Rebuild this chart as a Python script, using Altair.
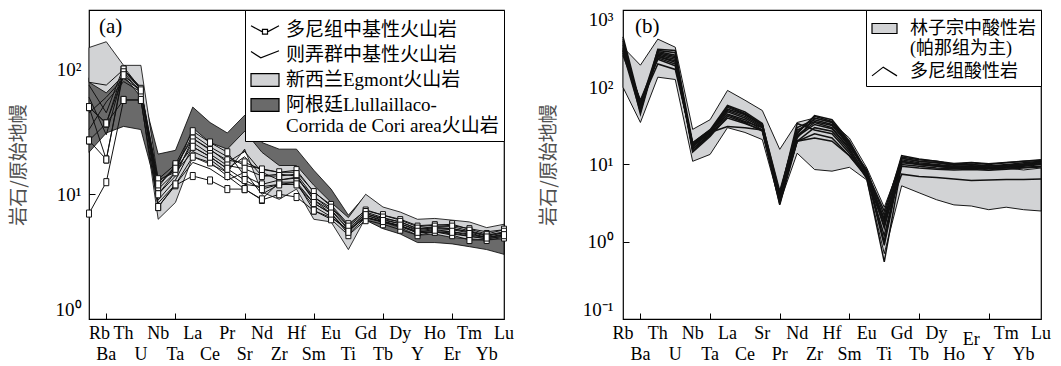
import altair as alt
import pandas as pd

# ---------------- data ----------------
ELEMS_A = ["Rb", "Ba", "Th", "U", "Nb", "Ta", "La", "Ce", "Pr", "Sr", "Nd", "Zr", "Hf",
           "Sm", "Eu", "Ti", "Gd", "Tb", "Dy", "Y", "Ho", "Er", "Tm", "Yb", "Lu"]
ELEMS_B = ["Rb", "Ba", "Th", "U", "Nb", "Ta", "La", "Ce", "Sr", "Pr", "Nd", "Zr", "Hf",
           "Sm", "Eu", "Ti", "Gd", "Tb", "Dy", "Ho", "Er", "Y", "Tm", "Yb", "Lu"]

# panel (a) envelopes
LLULL_UP = [86, 95, 95, 72, 21, 22.5, 50, 37.6, 31, 43, 26, 23, 23, 15.6, 11, 6.8, 9.8, 7.4, 6.5, 6.0, 6.0, 5.75, 5.75, 5.25, 5.4]
LLULL_LO = [21.7, 31, 35, 33, 10, 11, 30, 24, 19, 22, 16, 14, 14, 10, 7.5, 4.6, 6.2, 5.3, 4.8, 4.1, 4.1, 4.0, 3.8, 3.6, 3.3]
EGMONT_UP = [150, 167, 108, 108, 13, 15, 34, 26, 23, 32, 21.7, 17, 17, 11.8, 8.6, 6.5, 10, 7.9, 7.2, 6.3, 6.4, 6.2, 6.0, 5.4, 5.75]
EGMONT_LO = [79, 65, 90, 60, 6.3, 8.6, 20, 17.4, 15, 23, 10.4, 9.1, 11, 6.3, 6.0, 3.6, 6.5, 6.0, 5.4, 4.7, 4.8, 4.5, 4.4, 4.3, 4.4]

# panel (a) Duoni intermediate-basic volcanic rocks (with markers)
DUONI_A = [
    [7, 12.5, 57, 57, 7.9, 11.8, 14, 12.9, 11, 11, 9, 10, 9.5, 7.4, 6.5, 5.2, 6.5, 6.0, 5.6, 4.9, 5.0, 4.8, 4.6, 4.4, 4.6],
    [27, 19, 100, 69, 11.4, 17, 28, 22.6, 18.7, 18, 15.8, 15, 15.6, 10.4, 8.2, 5.75, 7.4, 6.8, 6.2, 5.5, 5.65, 5.75, 5.25, 4.8, 5.2],
    [50, 37, 100, 70, 13.2, 17.4, 32, 26, 21.7, 14, 12, 13, 13.7, 9.0, 7.4, 5.2, 7.0, 6.3, 5.8, 5.2, 5.4, 5.3, 5.0, 4.6, 4.9],
    [27, 37, 57, 57, 7.9, 12, 20, 18, 14, 11, 9.1, 12.5, 12.5, 7.4, 6.3, 4.7, 6.2, 5.75, 5.2, 4.7, 5.0, 4.7, 4.3, 4.3, 4.5],
    [50, 19, 95, 65, 10, 15, 26, 21, 17, 16, 14, 14, 14.5, 9.5, 7.8, 5.5, 7.2, 6.5, 6.0, 5.3, 5.5, 5.5, 5.1, 4.7, 5.0],
    [50, 37, 90, 68, 12, 16, 24, 20, 16, 13, 11, 12, 12, 8.5, 7.0, 5.0, 6.8, 6.1, 5.6, 5.0, 5.2, 5.0, 4.8, 4.5, 4.7],
]
# panel (a) Zenong group intermediate-basic volcanic rocks (no markers)
ZENONG_A = [
    [60, 30, 95, 70, 9, 13, 24, 20, 16, 20, 14, 14.5, 14, 9, 7, 5.0, 6.8, 6.2, 5.8, 5.1, 5.3, 5.2, 4.9, 4.5, 4.8],
    [79, 75, 100, 72, 10, 14, 28, 23, 18, 22, 15, 13, 13.5, 9.5, 7.5, 5.3, 7.0, 6.4, 6.0, 5.3, 5.4, 5.3, 5.0, 4.7, 4.9],
    [45, 60, 85, 68, 11, 15, 22, 19, 15, 12, 11.5, 12, 12.5, 8.5, 7, 4.8, 6.5, 6.0, 5.5, 4.9, 5.0, 4.9, 4.6, 4.4, 4.6],
    [75, 45, 105, 70, 12.5, 16, 30, 24, 20, 17, 16, 15, 15, 10.5, 8, 5.6, 7.5, 6.8, 6.3, 5.6, 5.7, 5.6, 5.3, 5.0, 5.2],
    [33, 55, 80, 66, 8.5, 12, 18, 16, 13, 15, 10, 12, 12, 8, 6.6, 5.1, 6.6, 6.0, 5.6, 5.0, 5.1, 5.0, 4.7, 4.5, 4.7],
]

# panel (b) Linzizong envelope
LINZI_UP = [330, 193, 420, 330, 28.5, 38, 91, 68, 50, 15.7, 35, 40, 35, 22, 9, 2.8, 11, 10, 9.5, 9, 9, 8.5, 9, 8.5, 9]
LINZI_LO = [100, 35, 135, 126, 11, 13.5, 30, 26, 21, 3.2, 14, 8.6, 8.2, 9.2, 6.3, 0.7, 5.3, 4.3, 3.5, 3.0, 2.9, 2.6, 2.8, 2.6, 2.5]

# panel (b) Duoni acid rocks
DUONI_B = [
    [450, 60, 300, 280, 19, 28, 58, 48, 34, 3.5, 25, 43, 38, 20, 8, 1.5, 12, 11, 10.5, 10, 10, 9.5, 10, 10.5, 11],
    [400, 50, 280, 250, 17, 26, 52, 44, 32, 3.3, 22, 40, 35, 18, 7.5, 1.0, 11.5, 10.5, 10, 9.5, 9.5, 9, 9.5, 10, 10.5],
    [350, 55, 250, 210, 16, 25, 48, 40, 30, 3.8, 24, 35, 30, 16, 7, 2.0, 11, 10, 9.5, 9, 9.5, 9, 9.2, 9.5, 10],
    [300, 65, 230, 190, 18, 27, 55, 45, 33, 4.2, 30, 38, 33, 17, 8.5, 1.8, 12.5, 11.5, 11, 10, 10.5, 10, 10.5, 11, 11.5],
    [280, 48, 310, 300, 15, 24, 45, 38, 28, 3.0, 20, 30, 27, 15, 6.5, 0.55, 10, 9.5, 9, 8.8, 9, 8.8, 9, 9.2, 9.5],
    [380, 58, 260, 230, 18, 27, 50, 42, 31, 3.6, 26, 42, 36, 19, 7.8, 2.5, 12, 11, 10.5, 9.8, 10, 9.6, 9.8, 10.2, 10.8],
    [320, 62, 200, 170, 19, 28, 44, 36, 30, 4.0, 34, 28, 25, 14, 7, 1.2, 10.5, 10, 9.6, 9.2, 9.3, 9, 9.3, 9.8, 10.2],
    [420, 52, 270, 240, 16, 24, 40, 34, 28, 3.4, 20, 25, 22, 13, 6.8, 1.6, 9.5, 9, 8.7, 8.5, 8.6, 8.4, 8.7, 9, 9.3],
    [260, 68, 240, 200, 18, 26, 57, 46, 33, 4.5, 28, 36, 32, 18, 8.2, 2.2, 13, 11.8, 11, 10.3, 10.6, 10.2, 10.6, 11, 11.3],
    [360, 45, 290, 260, 14.5, 23, 42, 35, 27, 3.1, 23, 33, 29, 16, 7.2, 0.9, 11, 10.2, 9.8, 9.4, 9.6, 9.3, 9.5, 9.8, 10.2],
    [300, 55, 250, 220, 17, 26, 31, 30, 28, 3.6, 20, 22, 20, 13, 7, 1.8, 7.5, 7, 6.8, 6.5, 6.2, 6.3, 6.4, 6.4, 6.5],
]

LEG_A = ["多尼组中基性火山岩", "则弄群中基性火山岩", "新西兰Egmont火山岩",
         "阿根廷Llullaillaco-|Corrida de Cori area火山岩"]
LEG_B = ["林子宗中酸性岩|(帕那组为主)", "多尼组酸性岩"]

# ---------------- styling ----------------
LIGHT = "#d2d3d5"
DARK = "#6a6a6a"
SERIF = "Liberation Serif"
CJK = "Noto Sans CJK SC"
MIX = "Liberation Serif, Noto Sans CJK SC"

SYM_V_SQ = "M-1,-0.3 L-0.15,0.15 M0.15,0.15 L1,-0.3 M-0.18,-0.05 L0.18,-0.05 L0.18,0.3 L-0.18,0.3 Z"
SYM_V = "M-1,-0.25 L-0.3,0.2 L1,-0.3"
SYM_RECT_A = "M-1,-0.45 L1,-0.45 L1,0.45 L-1,0.45 Z"
SYM_RECT_B = "M-1,-0.4 L1,-0.4 L1,0.4 L-1,0.4 Z"
SYM_CARET = "M-1,0.35 L-0.1,-0.35 L1,0.35"
MARKER = "M-0.7,-1 L0.7,-1 L0.7,1 L-0.7,1 Z"

H = 309


def band_df(up, lo):
    return pd.DataFrame({"i": list(range(len(up))), "up": up, "lo": lo})


def lines_df(lines, prefix):
    rows = []
    for k, vals in enumerate(lines):
        for i, v in enumerate(vals):
            rows.append({"i": i, "v": v, "s": f"{prefix}{k}"})
    return pd.DataFrame(rows)


YLAB = ("datum.value >= 999 ? '10³' : datum.value >= 99 ? '10²' : "
        "datum.value >= 9 ? '10¹' : datum.value >= 0.9 ? '10⁰' : '10⁻¹'")


def x_axis():
    return alt.Axis(values=list(range(1, 24)), labels=False, offset=-6, tickSize=6,
                    tickColor="black", tickWidth=1, domain=False, grid=False, title=None)


def y_axis(values, label_pad, title_pad):
    return alt.Axis(values=values, labelExpr=YLAB, offset=-6, tickSize=6, tickColor="black",
                    domain=False, grid=False, labelFont=SERIF, labelFontSize=19,
                    labelColor="black", labelPadding=label_pad, labelFlush=True,
                    title="岩石/原始地幔", titleFont=CJK, titleFontSize=19,
                    titleFontWeight="normal", titleColor="#505050", titlePadding=title_pad)


def x_labels(names, xs, left_first, mid_names):
    rows = []
    for i, n in enumerate(names):
        if i == 0 and left_first:
            r = "first"
        elif n in mid_names:
            r = "mid"
        else:
            r = "top" if i % 2 == 0 else "bot"
        rows.append({"i": i, "name": n, "row": r})
    base = alt.Chart(pd.DataFrame(rows)).encode(x=alt.X("i:Q", scale=xs), text="name:N")
    style = dict(font=SERIF, fontSize=18, color="black", baseline="alphabetic")
    out = []
    for r, yv, al in [("top", H + 20, "center"), ("bot", H + 41, "center"),
                      ("mid", H + 26, "center"), ("first", H + 20, "left")]:
        out.append(base.transform_filter(f"datum.row == '{r}'").mark_text(align=al, **style)
                   .encode(y=alt.value(yv)))
    return out


def legend(size, pad, fs, rowpad, loff):
    return alt.Legend(title=None, orient="top-right", offset=0, padding=pad,
                      fillColor="white", strokeColor="black", symbolSize=size,
                      symbolStrokeWidth=1.2, symbolOpacity=1,
                      symbolOffset=0, labelOffset=loff, labelFont=MIX, labelFontSize=fs,
                      labelColor="black", labelLimit=600, rowPadding=rowpad,
                      labelExpr="split(datum.label, '|')")


# ---------------- panel (a) ----------------
xs_a = alt.Scale(domain=[0, 24], nice=False, zero=False)
ys_a = alt.Scale(type="log", domain=[1, 300], nice=False)
W_A = 415

dark_a = alt.Chart(band_df(LLULL_UP, LLULL_LO)).mark_area(
    fill=DARK, stroke="black", strokeWidth=0.8).encode(
    x=alt.X("i:Q", scale=xs_a, axis=x_axis()),
    y=alt.Y("up:Q", scale=ys_a, axis=y_axis([1, 10, 100], 8, 27)),
    y2="lo:Q")
light_a = alt.Chart(band_df(EGMONT_UP, EGMONT_LO)).mark_area(
    fill=LIGHT, stroke="black", strokeWidth=0.8).encode(
    x=alt.X("i:Q", scale=xs_a), y=alt.Y("up:Q", scale=ys_a), y2="lo:Q")
zen_a = alt.Chart(lines_df(ZENONG_A, "z")).mark_line(color="#111111", strokeWidth=1).encode(
    x=alt.X("i:Q", scale=xs_a), y=alt.Y("v:Q", scale=ys_a), detail="s:N")
duo_df = lines_df(DUONI_A, "d")
duo_a = alt.Chart(duo_df).mark_line(color="#111111", strokeWidth=1).encode(
    x=alt.X("i:Q", scale=xs_a), y=alt.Y("v:Q", scale=ys_a), detail="s:N")
duo_pts = alt.Chart(duo_df).mark_point(shape=MARKER, size=50, filled=True, fill="white",
                                      stroke="#111111", strokeWidth=1, opacity=1).encode(
    x=alt.X("i:Q", scale=xs_a), y=alt.Y("v:Q", scale=ys_a))
leg_a_def = legend(784, 5, 19, 0, 6)
leg_a = alt.Chart(pd.DataFrame({"cat": LEG_A})).mark_point(opacity=0).encode(
    shape=alt.Shape("cat:N", scale=alt.Scale(domain=LEG_A, range=[SYM_V_SQ, SYM_V, SYM_RECT_A, SYM_RECT_A]),
                    legend=leg_a_def),
    fill=alt.Fill("cat:N", scale=alt.Scale(domain=LEG_A, range=["transparent", "transparent", LIGHT, DARK]),
                  legend=leg_a_def),
    stroke=alt.Stroke("cat:N", scale=alt.Scale(domain=LEG_A, range=["black"] * 4), legend=leg_a_def))
tag_a = alt.Chart(pd.DataFrame({"t": ["(a)"]})).mark_text(
    align="left", baseline="middle", font=SERIF, fontSize=21, color="black").encode(
    x=alt.value(10), y=alt.value(17), text="t:N")

panel_a = alt.layer(dark_a, light_a, zen_a, duo_a, duo_pts, leg_a, tag_a,
                    *x_labels(ELEMS_A, xs_a, True, ())).properties(width=W_A, height=H)

# ---------------- panel (b) ----------------
xs_b = alt.Scale(domain=[0, 24], nice=False, zero=False)
ys_b = alt.Scale(type="log", domain=[0.1, 1000], nice=False)
W_B = 418

band_b = alt.Chart(band_df(LINZI_UP, LINZI_LO)).mark_area(
    fill=LIGHT, stroke="black", strokeWidth=0.9).encode(
    x=alt.X("i:Q", scale=xs_b, axis=x_axis()),
    y=alt.Y("up:Q", scale=ys_b, axis=y_axis([0.1, 1, 10, 100, 1000], 10, 24)),
    y2="lo:Q")
duo_b = alt.Chart(lines_df(DUONI_B, "b")).mark_line(color="#111111", strokeWidth=1.5).encode(
    x=alt.X("i:Q", scale=xs_b), y=alt.Y("v:Q", scale=ys_b), detail="s:N")
leg_b_def = legend(625, 5, 18, 0, 12)
leg_b = alt.Chart(pd.DataFrame({"cat": LEG_B})).mark_point(opacity=0).encode(
    shape=alt.Shape("cat:N", scale=alt.Scale(domain=LEG_B, range=[SYM_RECT_B, SYM_CARET]),
                    legend=leg_b_def),
    fill=alt.Fill("cat:N", scale=alt.Scale(domain=LEG_B, range=[LIGHT, "transparent"]),
                  legend=leg_b_def),
    stroke=alt.Stroke("cat:N", scale=alt.Scale(domain=LEG_B, range=["black"] * 2), legend=leg_b_def))
tag_b = alt.Chart(pd.DataFrame({"t": ["(b)"]})).mark_text(
    align="left", baseline="middle", font=SERIF, fontSize=21, color="black").encode(
    x=alt.value(12), y=alt.value(17), text="t:N")

panel_b = alt.layer(band_b, duo_b, leg_b, tag_b,
                    *x_labels(ELEMS_B, xs_b, False, ("Er",))).properties(width=W_B, height=H)

chart = alt.hconcat(panel_a, panel_b, spacing=23).resolve_scale(
    shape="independent", fill="independent", stroke="independent").resolve_legend(
    shape="independent", fill="independent", stroke="independent").properties(
    padding={"left": 8, "top": 8, "right": 5, "bottom": 0}).configure_view(
    stroke="black", strokeWidth=1.2)

chart.save("out.html", embed_options={"renderer": "svg", "actions": False})
